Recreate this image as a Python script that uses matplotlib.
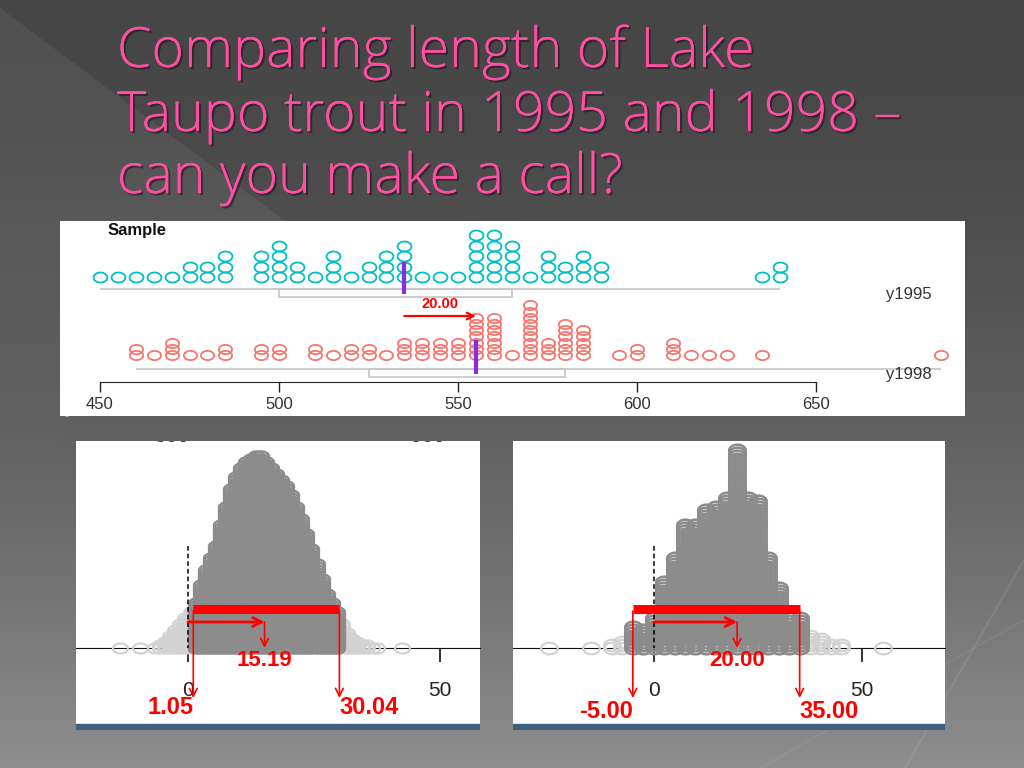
import matplotlib
matplotlib.use('Agg')
import matplotlib.pyplot as plt
import matplotlib.patheffects as pe
from matplotlib.patches import Polygon, Rectangle
from matplotlib.path import Path
import numpy as np

# ---- data ----
title_lines = ['Comparing length of Lake',
               'Taupo trout in 1995 and 1998 \u2013',
               'can you make a call?']

# sample dot plot: length (mm) and number of fish stacked at that length
len_1995 = [450, 455, 460, 465, 470, 475, 480, 485, 495, 500, 505, 510, 515, 520, 525,
            530, 535, 540, 545, 550, 555, 560, 565, 570, 575, 580, 585, 590, 635, 640]
cnt_1995 = [1, 1, 1, 1, 1, 2, 2, 3, 3, 4, 2, 1, 3, 1, 2,
            3, 4, 1, 1, 1, 5, 5, 4, 1, 3, 2, 3, 2, 1, 2]
len_1998 = [460, 465, 470, 475, 480, 485, 495, 500, 510, 515, 520, 525, 530, 535, 540, 545,
            550, 555, 560, 565, 570, 575, 580, 585, 595, 600, 610, 615, 620, 625, 635, 685]
cnt_1998 = [2, 1, 3, 1, 1, 2, 2, 2, 2, 1, 2, 2, 1, 3, 3, 3,
            3, 7, 7, 1, 9, 3, 6, 5, 1, 2, 3, 1, 1, 1, 1, 1]
# whisker low, q1, median, q3, whisker high
box_1995 = [450, 500, 535, 565, 640]
box_1998 = [460, 525, 555, 580, 685]
sample_ticks = [450, 500, 550, 600, 650]

# bootstrap distribution of difference (left) : value and stack height
boot_a_val = [-13.5, -9.5, -6.5, -5.5, -4.5, -3.5, -2.5, -1.5, -0.5, 0.5, 1.5, 2.5, 3.5, 4.5,
              5.5, 6.5, 7.5, 8.5, 9.5, 10.5, 11.5, 12.5, 13.5, 14.5, 15.5, 16.5, 17.5, 18.5,
              19.5, 20.5, 21.5, 22.5, 23.5, 24.5, 25.5, 26.5, 27.5, 28.5, 29.5, 30.5, 31.5,
              32.5, 33.5, 34.5, 35.5, 36.5, 37.5, 42.5]
boot_a_cnt = [1, 1, 1, 2, 3, 5, 7, 9, 11, 13, 16, 22, 27, 31,
              35, 42, 48, 54, 58, 61, 63, 64, 65, 65, 63, 61, 59, 57,
              55, 52, 48, 44, 39, 34, 29, 24, 19, 16, 13, 9, 6,
              4, 3, 2, 2, 1, 1, 1]
ci_a = [1.05, 30.04]
est_a = 15.19

# right panel distribution
boot_b_val = [-25, -15, -10, -7.5, -5, -2.5, 0, 2.5, 5, 7.5, 10, 12.5, 15, 17.5, 20,
              22.5, 25, 27.5, 30, 32.5, 35, 37.5, 40, 42.5, 45, 55]
boot_b_cnt = [1, 1, 2, 3, 8, 7, 11, 23, 31, 42, 42, 47, 48, 51, 67,
              51, 50, 31, 21, 11, 11, 5, 4, 2, 2, 1]
ci_b = [-5.00, 35.00]
est_b = 20.00

boot_ticks = [0, 50]

# ---- figure ----
W, H = 1024, 768
fig = plt.figure(figsize=(W / 100, H / 100), dpi=100)

bg = fig.add_axes([0, 0, 1, 1])
bg.set_xlim(0, W)
bg.set_ylim(H, 0)
bg.axis('off')
t = np.linspace(0, 1, 300)[:, None]
g = (70 + 72 * t ** 1.7) / 255
grad = np.dstack([g, g, g]) * np.ones((1, 2, 1))
bg.imshow(grad, extent=(0, W, H, 0), aspect='auto', zorder=0)
bg.add_patch(Polygon([(0, 8), (300, 232), (0, 232)], closed=True,
                     facecolor='white', alpha=0.06, edgecolor='none', zorder=1))
# lighter band fading out down the left edge
fade = np.ones((100, 2, 4))
fade[:, :, 3] = np.linspace(0.06, 0, 100)[:, None]
bg.imshow(fade, extent=(0, 62, 480, 232), aspect='auto', zorder=1)
bg.set_xlim(0, W)
bg.set_ylim(H, 0)
bg.plot([1024, 905], [560, 768], color='white', alpha=0.08, lw=1.5, zorder=1)
bg.plot([1024, 760], [620, 768], color='white', alpha=0.05, lw=1.5, zorder=1)

shadow = [pe.withSimplePatchShadow(offset=(1.5, -1.5), shadow_rgbFace='#1a0010', alpha=0.45),
          pe.Normal()]
for line, base in zip(title_lines, [67, 131, 193]):
    bg.text(117, base, line, fontsize=40, color='#ff4fa0', family='Open Sans',
            fontweight='light', va='baseline', ha='left', path_effects=shadow)


def panel(x0, y0, x1, y1):
    ax = fig.add_axes([x0 / W, 1 - y1 / H, (x1 - x0) / W, (y1 - y0) / H])
    ax.set_facecolor('white')
    for s in ['top', 'left', 'right']:
        ax.spines[s].set_visible(False)
    ax.set_yticks([])
    return ax


theta = np.linspace(0, 2 * np.pi, 41)


def oval(ratio):
    return Path(np.column_stack([np.cos(theta), ratio * np.sin(theta)]))


def stacks(vals, cnts, base, step):
    xs, ys = [], []
    for v, c in zip(vals, cnts):
        for k in range(c):
            xs.append(v)
            ys.append(base - k * step)
    return np.array(xs), np.array(ys)


# ---- top: sample dot plot ----
px_per = 3.58
ax = panel(60, 221, 965, 416)
ax.set_xlim(450 - 40 / px_per, 650 + 149 / px_per)
ax.set_ylim(416, 221)
ax.spines['bottom'].set_position(('data', 382))
ax.spines['bottom'].set_bounds(sample_ticks[0], sample_ticks[-1])
ax.spines['bottom'].set_color('#222222')
ax.set_xticks(sample_ticks)
ax.tick_params(axis='x', direction='out', length=7, width=1, color='#222222',
               labelsize=12, labelcolor='#333333', pad=4)
for lab in ax.get_xticklabels():
    lab.set_family('Liberation Sans')

ax.text(452, 231, 'Sample', fontsize=12, fontweight='bold', family='Liberation Sans',
        va='center', ha='left', color='#111111')
ax.text(452, 427, 'Re-sample', fontsize=12, fontweight='bold', family='Liberation Sans',
        va='center', ha='left', color='#111111', clip_on=True)
ax.text(676, 295, 'y1995', fontsize=12, family='Liberation Sans', va='center', ha='center',
        color='#333333')
ax.text(676, 374, 'y1998', fontsize=12, family='Liberation Sans', va='center', ha='center',
        color='#333333')

box_col = '#c8c8c8'
for box, wy in [(box_1995, 289), (box_1998, 369)]:
    ax.hlines(wy, box[0], box[4], color=box_col, lw=1.3, zorder=2)
    ax.add_patch(Rectangle((box[1], wy), box[3] - box[1], 8, facecolor='none',
                           edgecolor=box_col, lw=1.3, zorder=2))

x95, y95 = stacks(len_1995, cnt_1995, 277, 10.4)
ax.plot(x95, y95, ls='none', marker=oval(0.72), ms=10, mfc='none', mec='#00BFC4',
        mew=1.3, zorder=3)
x98, y98 = stacks(len_1998, cnt_1998, 355, 6.2)
ax.plot(x98, y98, ls='none', marker=oval(0.7), ms=9.5, mfc='none', mec='#F8766D',
        mew=1.3, zorder=3)

ax.vlines(box_1995[2], 262, 294, color='#8a2be2', lw=3, zorder=4)
ax.vlines(box_1998[2], 340, 374, color='#8a2be2', lw=3, zorder=4)
ax.annotate('', xy=(box_1998[2], 316), xytext=(box_1995[2], 316),
            arrowprops=dict(arrowstyle='->', color='red', lw=1.6, mutation_scale=12,
                            shrinkA=0, shrinkB=0), zorder=5)
ax.text((box_1995[2] + box_1998[2]) / 2, 304, f'{box_1998[2] - box_1995[2]:.2f}',
        color='red', fontsize=10.5, fontweight='bold', family='Liberation Sans',
        ha='center', va='center')

# left border/shadow of top panel
bg.add_patch(Rectangle((65, 221), 3, 195, color='#9a9a9a', zorder=5))
bg.plot([95, 940], [221.5, 221.5], color='#333333', lw=1.5, zorder=5)


# ---- bottom: bootstrap panels ----
def boot_panel(x0, x1, zero_px, px_unit, vals, cnts, ci, est, ms, ratio,
               lab_y, top_digits):
    ax = panel(x0, 441, x1, 730)
    ax.set_xlim((x0 - zero_px) / px_unit, (x1 - zero_px) / px_unit)
    ax.set_ylim(730, 441)
    ax.spines['bottom'].set_position(('data', 648))
    ax.spines['bottom'].set_color('#111111')
    ax.spines['bottom'].set_zorder(1)
    ax.set_xticks(boot_ticks)
    ax.tick_params(axis='x', direction='out', length=10, width=1.2, color='#111111',
                   labelsize=15, labelcolor='#222222', pad=14)
    for lab in ax.get_xticklabels():
        lab.set_family('Liberation Sans')
    ax.add_patch(Rectangle((ax.get_xlim()[0], 724), ax.get_xlim()[1] - ax.get_xlim()[0], 6,
                           color='#3f5f7f', zorder=6))

    xs, ys = stacks(vals, cnts, 648, 3.0)
    inside = (xs >= ci[0]) & (xs <= ci[1])
    mk = oval(ratio)
    ax.plot(xs[~inside], ys[~inside], ls='none', marker=mk, ms=ms, mfc='none',
            mec='#d2d2d2', mew=1.6, zorder=3)
    ax.plot(xs[inside], ys[inside], ls='none', marker=mk, ms=ms, mfc='none',
            mec='#8c8c8c', mew=1.8, zorder=3)

    for v, txt in top_digits:
        ax.text(v, 436, txt, fontsize=15, color='#333333', family='Liberation Sans',
                ha='center', va='center', clip_on=True)

    ax.vlines(0, 546, 648, color='black', ls=(0, (3, 2)), lw=1.1, zorder=4)
    ax.hlines(609, ci[0], ci[1], color='red', lw=6.5, zorder=5)
    ax.annotate('', xy=(est, 622), xytext=(0, 622),
                arrowprops=dict(arrowstyle='->', color='red', lw=2, mutation_scale=16,
                                shrinkA=0, shrinkB=0), zorder=6)
    ax.annotate('', xy=(est, 648), xytext=(est, 622),
                arrowprops=dict(arrowstyle='->', color='red', lw=1.2, mutation_scale=14,
                                shrinkA=0, shrinkB=0), zorder=6)
    for v in ci:
        ax.annotate('', xy=(v, 698), xytext=(v, 611),
                    arrowprops=dict(arrowstyle='->', color='red', lw=1.2, mutation_scale=14,
                                    shrinkA=0, shrinkB=0), zorder=6)
    lab_kw = dict(color='red', fontweight='bold', family='Liberation Sans', va='center')
    ax.text(est, 660, f'{est:.2f}', fontsize=16, ha='center', **lab_kw)
    ax.text(ci[0], lab_y, f'{ci[0]:.2f}', fontsize=17, ha='right', **lab_kw)
    ax.text(ci[1], lab_y, f'{ci[1]:.2f}', fontsize=17, ha='left', **lab_kw)
    return ax


boot_panel(76, 480, 188, 5.04, boot_a_val, boot_a_cnt, ci_a, est_a, 10.8, 0.67, 707,
           [(-3.2, '500'), (47.6, '600')])
boot_panel(513, 945, 653.7, 4.17, boot_b_val, boot_b_cnt, ci_b, est_b, 12.0, 0.7, 711, [])

fig.savefig('out.png', dpi=100)
